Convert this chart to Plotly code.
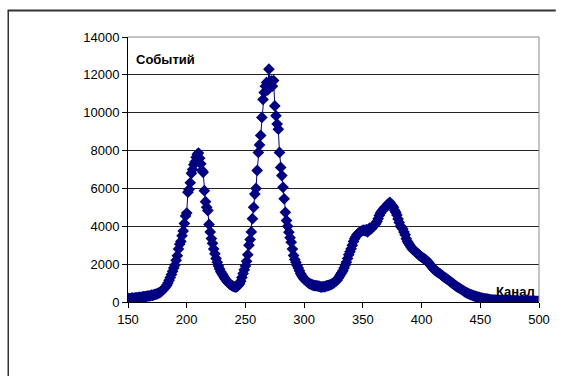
import plotly.graph_objects as go

channel_start = 150
counts = [
    180, 190, 170, 200, 210, 190, 220, 230, 210, 240,
    250, 240, 260, 280, 270, 290, 300, 320, 310, 340,
    360, 350, 380, 400, 420, 440, 470, 500, 540, 600,
    660, 720, 800, 880, 1000, 1150, 1300, 1450, 1620, 1800,
    1950, 2200, 2450, 2800, 3050, 3200, 3500, 3750, 4150, 4550,
    4700, 5800, 5950, 6300, 6800, 7000, 7250, 7400, 7650, 7800,
    7870, 7600, 7300, 6950, 6850, 5880, 5300, 5000, 4830, 4100,
    3700, 3350, 3100, 2800, 2550, 2300, 2100, 1900, 1750, 1600,
    1500, 1400, 1300, 1200, 1120, 1050, 980, 930, 880, 850,
    820, 800, 790, 820, 880, 970, 1100, 1300, 1500, 1700,
    1900, 2150, 2500, 3000, 3300, 3700, 4400, 5000, 5700, 6000,
    6950, 7900, 8300, 8800, 9750, 10700, 11070, 11400, 11600, 11200,
    12300, 11500, 11680, 11400, 11700, 10360, 9840, 9400, 9130, 7900,
    7110, 6680, 6060, 5450, 4740, 4300, 4000, 3690, 3400, 3160,
    2800, 2460, 2250, 2100, 1930, 1800, 1650, 1500, 1400, 1300,
    1220, 1150, 1100, 1050, 1000, 960, 930, 900, 880, 870,
    860, 850, 840, 830, 800, 790, 820, 800, 830, 850,
    860, 880, 900, 930, 970, 1000, 1050, 1100, 1150, 1250,
    1350, 1450, 1550, 1650, 1800, 1950, 2100, 2300, 2500, 2650,
    2810, 3000, 3200, 3340, 3450, 3550, 3620, 3680, 3700, 3750,
    3780, 3800, 3750, 3820, 3700, 3850, 3900, 3860, 3950, 4000,
    4100, 4130, 4250, 4400, 4570, 4700, 4800, 4850, 4950, 5000,
    5050, 5150, 5200, 5270, 5150, 5100, 5000, 4850, 4740, 4600,
    4390, 4200, 4000, 3950, 3860, 3700, 3550, 3340, 3200, 3100,
    3000, 2900, 2810, 2750, 2700, 2650, 2600, 2550, 2460, 2420,
    2380, 2330, 2290, 2250, 2200, 2150, 2080, 2000, 1920, 1850,
    1760, 1700, 1650, 1600, 1560, 1520, 1480, 1420, 1380, 1320,
    1280, 1240, 1200, 1150, 1100, 1050, 1000, 960, 900, 860,
    810, 780, 740, 700, 660, 620, 580, 540, 500, 470,
    440, 410, 390, 360, 340, 310, 300, 280, 260, 240,
    220, 200, 190, 180, 170, 160, 150, 140, 130, 120,
    110, 105, 100, 95, 90, 88, 85, 82, 80, 78,
    75, 72, 70, 68, 66, 65, 63, 62, 60, 58,
    57, 56, 55, 54, 53, 52, 51, 50, 49, 48,
    47, 46, 45, 44, 43, 42, 41, 40, 40, 40,
    40,
]
channels = list(range(channel_start, channel_start + len(counts)))

x_ticks = [150, 200, 250, 300, 350, 400, 450, 500]
y_ticks = [0, 2000, 4000, 6000, 8000, 10000, 12000, 14000]

y_title = "Событий"
x_title = "Канал"

FONT = "Arial, Liberation Sans, sans-serif"

fig = go.Figure()
fig.add_trace(go.Scatter(
    x=channels, y=counts, mode="lines+markers",
    line=dict(color="#000080", width=1),
    marker=dict(symbol="diamond", size=9, color="#000080", line=dict(width=0)),
    showlegend=False,
))

W, H = 562, 376
L, R, T, B = 128, 17, 37, 74
pw, ph = W - L - R, H - T - B

def px(xp):
    return (xp - L) / pw

def py(yp):
    return (H - B - yp) / ph

fig.update_layout(
    width=W, height=H, autosize=False,
    margin=dict(l=L, r=R, t=T, b=B, pad=0),
    paper_bgcolor="white", plot_bgcolor="white",
    font=dict(family=FONT, size=13, color="black"),
    xaxis=dict(
        range=[150, 500], tickvals=x_ticks, ticktext=[str(v) for v in x_ticks],
        ticks="outside", ticklen=5,
        tickcolor="black", showline=True, linecolor="black", linewidth=1,
        showgrid=False, zeroline=False, tickfont=dict(size=13),
    ),
    yaxis=dict(
        range=[0, 14000], tickvals=y_ticks, ticktext=[str(v) for v in y_ticks],
        ticks="outside", ticklen=5,
        tickcolor="black", showline=True, linecolor="black", linewidth=1,
        showgrid=True, gridcolor="#222222", gridwidth=1, zeroline=False,
        tickfont=dict(size=13),
    ),
    shapes=[
        # outer chart frame (top and left edges are visible in the picture)
        dict(type="line", xref="paper", yref="paper",
             x0=px(6), x1=px(W), y0=py(10.5), y1=py(10.5),
             line=dict(color="#333333", width=2)),
        dict(type="line", xref="paper", yref="paper",
             x0=px(6.5), x1=px(6.5), y0=py(10), y1=py(H),
             line=dict(color="#333333", width=1.5)),
        # plot-area top and right border (gray)
        dict(type="line", xref="paper", yref="paper", x0=0, x1=1, y0=1, y1=1,
             line=dict(color="#888888", width=1)),
        dict(type="line", xref="paper", yref="paper", x0=1, x1=1, y0=0, y1=1,
             line=dict(color="#888888", width=1)),
    ],
    annotations=[
        dict(text="<b>" + y_title + "</b>", xref="paper", yref="paper",
             x=px(134), y=py(59), xanchor="left", yanchor="middle",
             showarrow=False, font=dict(family=FONT, size=13, color="black")),
        dict(text="<b>" + x_title + "</b>", xref="paper", yref="paper",
             x=px(543), y=py(291), xanchor="right", yanchor="middle",
             showarrow=False, font=dict(family=FONT, size=13, color="black")),
    ],
)

fig.write_html(
    "out.html",
    post_script="document.documentElement.style.overflow='hidden';"
                "document.body.style.margin='0';document.body.style.overflow='hidden';",
)
